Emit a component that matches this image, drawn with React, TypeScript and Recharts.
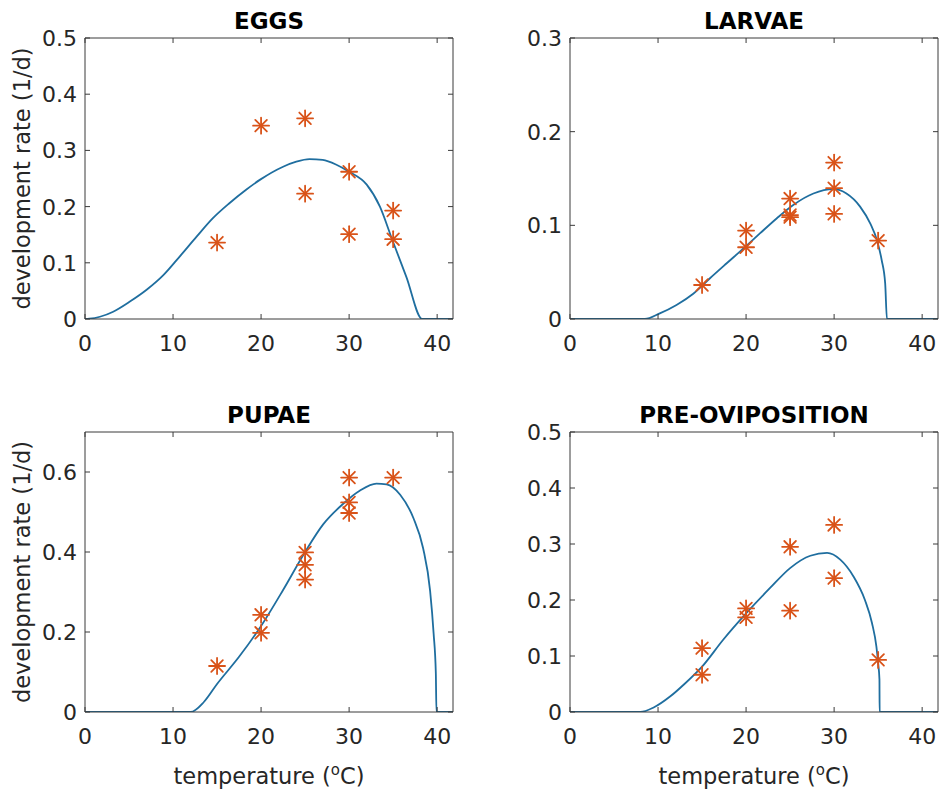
import React from 'react';
import { ComposedChart, Line, Scatter, XAxis, YAxis } from 'recharts';

const FONT = '"DejaVu Sans", "Liberation Sans", sans-serif';
const AXIS_COLOR = '#3a3a3a';
const TEXT_COLOR = '#262626';
const CURVE_COLOR = '#1f6e9f';
const STAR_COLOR = '#D95319';
const TICK_LEN = 5;
const TICK_FONT = 22;

// temperature tick labels
const xTicks = [0, 10, 20, 30, 40];

// ---- EGGS ----
const eggsCurveT = [0, 0.5, 1.7, 3.2, 5.1, 7.0, 8.9, 10.8, 12.7, 14.5, 16.4, 18.3, 19.9, 22.5, 24.0, 25.5, 27.0, 28.5, 30.0, 32.0, 33.5, 34.9, 36.5, 38.3, 41.8];
const eggsCurveRate = [0, 0.0005, 0.004, 0.013, 0.031, 0.052, 0.078, 0.112, 0.147, 0.179, 0.206, 0.23, 0.248, 0.271, 0.28, 0.2845, 0.283, 0.275, 0.262, 0.239, 0.2, 0.141, 0.075, 0, 0];
const eggsObsT = [15, 20, 25, 25, 30, 30, 35, 35];
const eggsObsRate = [0.136, 0.344, 0.357, 0.223, 0.262, 0.151, 0.193, 0.142];
const eggsYTicks = [0, 0.1, 0.2, 0.3, 0.4, 0.5];

// ---- LARVAE ----
const larvaeCurveT = [0, 8.5, 10.2, 12.1, 14.0, 15.9, 17.8, 19.9, 21.6, 23.5, 25.4, 27.65, 29.9, 31.4, 32.95, 34.1, 34.9, 35.4, 35.8, 36.0, 41.8];
const larvaeCurveRate = [0, 0, 0.006, 0.015, 0.027, 0.0435, 0.0595, 0.077, 0.0916, 0.1076, 0.122, 0.134, 0.1386, 0.134, 0.12, 0.102, 0.083, 0.063, 0.038, 0, 0];
const larvaeObsT = [15, 20, 20, 25, 25, 25, 30, 30, 30, 35];
const larvaeObsRate = [0.0363, 0.0944, 0.0766, 0.1286, 0.111, 0.1087, 0.167, 0.1397, 0.1122, 0.0837];
const larvaeYTicks = [0, 0.1, 0.2, 0.3];

// ---- PUPAE ----
const pupaeCurveT = [0, 12.0, 13.5, 15.0, 17.5, 20.0, 22.5, 25.0, 27.05, 29.3, 31.2, 33.1, 34.25, 35.8, 37.3, 38.4, 39.2, 39.6, 39.85, 39.92, 41.8];
const pupaeCurveRate = [0, 0, 0.025, 0.07, 0.138, 0.215, 0.305, 0.4, 0.469, 0.52, 0.553, 0.571, 0.569, 0.543, 0.485, 0.41, 0.303, 0.196, 0.097, 0, 0];
const pupaeObsT = [15, 20, 20, 25, 25, 25, 30, 30, 30, 35];
const pupaeObsRate = [0.115, 0.243, 0.198, 0.399, 0.368, 0.331, 0.586, 0.524, 0.4975, 0.586];
const pupaeYTicks = [0, 0.2, 0.4, 0.6];

// ---- PRE-OVIPOSITION ----
const preCurveT = [0, 8.0, 9.5, 11.4, 13.0, 15.0, 17.4, 20.0, 22.7, 25.0, 27.3, 29.2, 30.7, 32.2, 33.5, 34.3, 34.8, 35.0, 35.15, 35.17, 41.8];
const preCurveRate = [0, 0, 0.008, 0.028, 0.05, 0.081, 0.129, 0.176, 0.221, 0.257, 0.279, 0.284, 0.272, 0.242, 0.2, 0.159, 0.117, 0.0875, 0.058, 0, 0];
const preObsT = [15, 15, 20, 20, 25, 25, 30, 30, 35];
const preObsRate = [0.114, 0.0665, 0.185, 0.169, 0.295, 0.181, 0.334, 0.239, 0.093];
const preYTicks = [0, 0.1, 0.2, 0.3, 0.4, 0.5];

const zip = (t: number[], r: number[]) => t.map((v, i) => ({ t: v, r: r[i] }));

const Star = (props: any) => {
  const { cx, cy } = props;
  if (cx == null || cy == null) return <g />;
  const a = 8;
  const d = 5.8;
  return (
    <g stroke={STAR_COLOR} strokeWidth={1.8} strokeLinecap="round">
      <line x1={cx - a} y1={cy} x2={cx + a} y2={cy} />
      <line x1={cx} y1={cy - a} x2={cx} y2={cy + a} />
      <line x1={cx - d} y1={cy - d} x2={cx + d} y2={cy + d} />
      <line x1={cx - d} y1={cy + d} x2={cx + d} y2={cy - d} />
    </g>
  );
};

type Side = 'bottom' | 'top' | 'left' | 'right';

const makeTick = (side: Side, showLabel: boolean) => (props: any) => {
  const { x, y, payload } = props;
  const label = String(payload.value);
  const textProps = { fill: TEXT_COLOR, fontSize: TICK_FONT, fontFamily: FONT };
  if (side === 'bottom') {
    return (
      <g>
        <line x1={x} y1={y} x2={x} y2={y - TICK_LEN} stroke={AXIS_COLOR} />
        {showLabel && (
          <text x={x} y={y + 32} textAnchor="middle" {...textProps}>
            {label}
          </text>
        )}
      </g>
    );
  }
  if (side === 'top') {
    return <line x1={x} y1={y} x2={x} y2={y + TICK_LEN} stroke={AXIS_COLOR} />;
  }
  if (side === 'left') {
    return (
      <g>
        <line x1={x} y1={y} x2={x + TICK_LEN} y2={y} stroke={AXIS_COLOR} />
        {showLabel && (
          <text x={x - 8} y={y + 8} textAnchor="end" {...textProps}>
            {label}
          </text>
        )}
      </g>
    );
  }
  return <line x1={x} y1={y} x2={x - TICK_LEN} y2={y} stroke={AXIS_COLOR} />;
};

type PanelProps = {
  title: string;
  curveT: number[];
  curveRate: number[];
  obsT: number[];
  obsRate: number[];
  yMax: number;
  yTicks: number[];
  left: number;
  top: number;
  width: number;
  height: number;
  marginTop: number;
  marginRight: number;
  yAxisWidth: number;
  xAxisHeight: number;
  showYLabel: boolean;
  showXLabel: boolean;
};

const Panel = (p: PanelProps) => {
  const curve = zip(p.curveT, p.curveRate);
  const obs = zip(p.obsT, p.obsRate);
  return (
    <div style={{ position: 'absolute', left: p.left, top: p.top }}>
      <ComposedChart
        width={p.width}
        height={p.height}
        margin={{ top: p.marginTop, right: p.marginRight, bottom: 0, left: 0 }}
      >
        <XAxis
          xAxisId="b"
          type="number"
          dataKey="t"
          domain={[0, 41.8]}
          ticks={xTicks}
          interval={0}
          allowDataOverflow
          height={p.xAxisHeight}
          tickSize={0}
          tickMargin={0}
          tickLine={false}
          tick={makeTick('bottom', true)}
          stroke={AXIS_COLOR}
          label={
            p.showXLabel
              ? {
                  content: (lp: any) => {
                    const vb = lp.viewBox || {};
                    return (
                      <text
                        x={vb.x + vb.width / 2}
                        y={vb.y + 72}
                        textAnchor="middle"
                        fill={TEXT_COLOR}
                        fontSize={22.5}
                        fontFamily={FONT}
                      >
                        temperature (
                        <tspan dy={-9} fontSize={15}>o</tspan>
                        <tspan dy={9}>C)</tspan>
                      </text>
                    );
                  },
                }
              : undefined
          }
        />
        <XAxis
          xAxisId="t"
          orientation="top"
          type="number"
          dataKey="t"
          domain={[0, 41.8]}
          ticks={xTicks}
          interval={0}
          allowDataOverflow
          height={1}
          tickSize={0}
          tickMargin={0}
          tickLine={false}
          tick={makeTick('top', false)}
          stroke={AXIS_COLOR}
          label={{
            content: (lp: any) => {
              const vb = lp.viewBox || {};
              return (
                <text
                  x={vb.x + vb.width / 2}
                  y={vb.y + vb.height - 9.5}
                  textAnchor="middle"
                  fill="#000"
                  fontSize={23}
                  fontWeight="bold"
                  fontFamily={FONT}
                >
                  {p.title}
                </text>
              );
            },
          }}
        />
        <YAxis
          yAxisId="l"
          type="number"
          domain={[0, p.yMax]}
          ticks={p.yTicks}
          interval={0}
          allowDataOverflow
          width={p.yAxisWidth}
          tickSize={0}
          tickMargin={0}
          tickLine={false}
          tick={makeTick('left', true)}
          stroke={AXIS_COLOR}
          label={
            p.showYLabel
              ? {
                  content: (lp: any) => {
                    const vb = lp.viewBox || {};
                    const x = vb.x + 30;
                    const y = vb.y + vb.height / 2;
                    return (
                      <text
                        x={x}
                        y={y}
                        transform={`rotate(-90, ${x}, ${y})`}
                        textAnchor="middle"
                        fill={TEXT_COLOR}
                        fontSize={22.5}
                        fontFamily={FONT}
                      >
                        development rate (1/d)
                      </text>
                    );
                  },
                }
              : undefined
          }
        />
        <YAxis
          yAxisId="r"
          orientation="right"
          type="number"
          domain={[0, p.yMax]}
          ticks={p.yTicks}
          interval={0}
          allowDataOverflow
          width={1}
          tickSize={0}
          tickMargin={0}
          tickLine={false}
          tick={makeTick('right', false)}
          stroke={AXIS_COLOR}
        />
        <Line
          xAxisId="t"
          yAxisId="r"
          data={curve}
          dataKey="r"
          stroke="none"
          dot={false}
          activeDot={false}
          isAnimationActive={false}
        />
        <Line
          xAxisId="b"
          yAxisId="l"
          data={curve}
          dataKey="r"
          type="monotone"
          stroke={CURVE_COLOR}
          strokeWidth={1.8}
          dot={false}
          activeDot={false}
          isAnimationActive={false}
        />
        <Scatter
          xAxisId="b"
          yAxisId="l"
          data={obs}
          dataKey="r"
          shape={Star}
          isAnimationActive={false}
        />
      </ComposedChart>
    </div>
  );
};

export default function App() {
  return (
    <div
      style={{
        position: 'absolute',
        left: 0,
        top: 0,
        width: 939,
        height: 794,
        background: '#fff',
        overflow: 'hidden',
      }}
    >
      <Panel
        title="EGGS"
        curveT={eggsCurveT}
        curveRate={eggsCurveRate}
        obsT={eggsObsT}
        obsRate={eggsObsRate}
        yMax={0.5}
        yTicks={eggsYTicks}
        left={0}
        top={0}
        width={470}
        height={397}
        marginTop={37}
        marginRight={16}
        yAxisWidth={85}
        xAxisHeight={78}
        showYLabel
        showXLabel={false}
      />
      <Panel
        title="LARVAE"
        curveT={larvaeCurveT}
        curveRate={larvaeCurveRate}
        obsT={larvaeObsT}
        obsRate={larvaeObsRate}
        yMax={0.3}
        yTicks={larvaeYTicks}
        left={470}
        top={0}
        width={469}
        height={397}
        marginTop={37}
        marginRight={0}
        yAxisWidth={100}
        xAxisHeight={78}
        showYLabel={false}
        showXLabel={false}
      />
      <Panel
        title="PUPAE"
        curveT={pupaeCurveT}
        curveRate={pupaeCurveRate}
        obsT={pupaeObsT}
        obsRate={pupaeObsRate}
        yMax={0.7}
        yTicks={pupaeYTicks}
        left={0}
        top={397}
        width={470}
        height={397}
        marginTop={34}
        marginRight={16}
        yAxisWidth={85}
        xAxisHeight={82}
        showYLabel
        showXLabel
      />
      <Panel
        title="PRE-OVIPOSITION"
        curveT={preCurveT}
        curveRate={preCurveRate}
        obsT={preObsT}
        obsRate={preObsRate}
        yMax={0.5}
        yTicks={preYTicks}
        left={470}
        top={397}
        width={469}
        height={397}
        marginTop={34}
        marginRight={0}
        yAxisWidth={100}
        xAxisHeight={82}
        showYLabel={false}
        showXLabel
      />
    </div>
  );
}
